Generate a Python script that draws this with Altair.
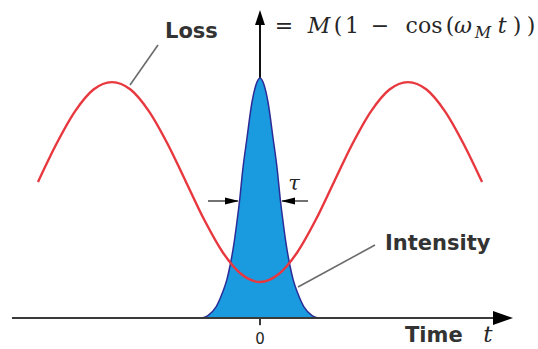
import altair as alt
import pandas as pd

# Time in units of the modulation period (2*pi / omega_M), t = 0 at the pulse centre.
# Loss modulation M(1 - cos(omega_M t)) drawn on a small offset, sampled every 1/16 period
loss_t = [-0.75, -0.6875, -0.625, -0.5625, -0.5, -0.4375, -0.375, -0.3125, -0.25,
          -0.1875, -0.125, -0.0625, 0.0, 0.0625, 0.125, 0.1875, 0.25,
          0.3125, 0.375, 0.4375, 0.5, 0.5625, 0.625, 0.6875, 0.75]
loss_v = [0.567, 0.726, 0.861, 0.952, 0.983, 0.952, 0.861, 0.726, 0.567,
          0.407, 0.272, 0.182, 0.150, 0.182, 0.272, 0.407, 0.567,
          0.726, 0.861, 0.952, 0.983, 0.952, 0.861, 0.726, 0.567]

# Pulse intensity (normalised to its peak)
pulse_t = [-0.196, -0.176, -0.149, -0.127, -0.112, -0.100, -0.088, -0.078, -0.068,
           -0.059, -0.044, -0.027, -0.014, 0.0, 0.014, 0.027, 0.044, 0.059,
           0.068, 0.078, 0.088, 0.100, 0.112, 0.127, 0.149, 0.176, 0.196]
pulse_i = [0.0, 0.010, 0.045, 0.105, 0.160, 0.225, 0.310, 0.400, 0.500,
           0.610, 0.750, 0.900, 0.970, 1.0, 0.970, 0.900, 0.750, 0.610,
           0.500, 0.400, 0.310, 0.225, 0.160, 0.105, 0.045, 0.010, 0.0]

# Half-maximum width markers (tau) and the tick at t = 0
tau_level = 0.4875
tick_labels = ["0"]

T_DOMAIN = [-0.8784, 0.9392]
V_DOMAIN = [-0.1292, 1.325]

xs = alt.Scale(domain=T_DOMAIN, nice=False, zero=False)
ys = alt.Scale(domain=V_DOMAIN, nice=False, zero=False)


def X(field="t"):
    return alt.X(f"{field}:Q", scale=xs, axis=None)


def Y(field="v"):
    return alt.Y(f"{field}:Q", scale=ys, axis=None)


RED = "#e8383f"
BLUE = "#1a9be0"
NAVY = "#2c2c96"
INK = "#262626"
GREY = "#6b6b6b"

loss_df = pd.DataFrame({"t": loss_t, "v": loss_v})
pulse_df = pd.DataFrame({"t": pulse_t, "v": pulse_i})

# vertical axis (drawn under the pulse)
v_axis = alt.Chart(pd.DataFrame({"t": [0.0], "v": [0.0], "v2": [1.27]})).mark_rule(
    color="#111111", strokeWidth=2
).encode(x=X(), y=Y(), y2=alt.Y2("v2"))

# horizontal axis and the tick at zero
h_axis = alt.Chart(pd.DataFrame({
    "t": [-0.838, 0.0], "t2": [0.84, 0.0], "v": [0.0, 0.0], "v2": [0.0, -0.03]
})).mark_rule(color="#3a3a3a", strokeWidth=2).encode(
    x=X(), x2=alt.X2("t2"), y=Y(), y2=alt.Y2("v2")
)

pulse_fill = alt.Chart(pulse_df).mark_area(
    color=BLUE, opacity=1, interpolate="monotone"
).encode(x=X(), y=Y())

pulse_edge = alt.Chart(pulse_df).mark_line(
    color=NAVY, strokeWidth=1.5, interpolate="monotone"
).encode(x=X(), y=Y())

loss_line = alt.Chart(loss_df).mark_line(
    color=RED, strokeWidth=2.4, interpolate="monotone"
).encode(x=X(), y=Y())

# tau arrows
tau_lines = alt.Chart(pd.DataFrame({
    "t": [-0.1757, 0.1622], "t2": [-0.075, 0.075], "v": [tau_level, tau_level]
})).mark_rule(color=INK, strokeWidth=1.3).encode(x=X(), x2=alt.X2("t2"), y=Y())

# arrowheads: tip sits on the data point
heads = alt.Chart(pd.DataFrame({
    "t": [0.8547, 0.0, -0.0709, 0.0709],
    "v": [0.0, 1.2833, tau_level, tau_level],
    "shape": ["M0,0L-1,-0.35L-1,0.35Z", "M0,0L-0.33,1L0.33,1Z",
              "M0,0L-1,-0.25L-1,0.25Z", "M0,0L1,-0.25L1,0.25Z"],
    "size": [1600, 900, 784, 784],
})).mark_point(filled=True, opacity=1, color="#000000", strokeWidth=0).encode(
    x=X(), y=Y(),
    shape=alt.Shape("shape:N", scale=None),
    size=alt.Size("size:Q", scale=None),
)

# leader lines for the labels
leaders = alt.Chart(pd.DataFrame({
    "t": [-0.3446, 0.1284], "v": [1.1375, 0.129],
    "t2": [-0.4392, 0.3885], "v2": [0.9708, 0.304],
})).mark_rule(color=GREY, strokeWidth=1.6).encode(
    x=X(), y=Y(), x2=alt.X2("t2"), y2=alt.Y2("v2")
)

sans_labels = alt.Chart(pd.DataFrame({
    "text": ["Loss", "Intensity", "Time"],
    "t": [-0.3209, 0.4223, 0.4899],
    "v": [1.1667, 0.2833, -0.100],
})).mark_text(
    font="DejaVu Sans", fontWeight="bold", fontSize=21, align="left",
    baseline="alphabetic", color="#333333"
).encode(x=X(), y=Y(), text="text:N")

zero_label = alt.Chart(pd.DataFrame({
    "text": tick_labels, "t": [0.0], "v": [-0.108]
})).mark_text(
    font="DejaVu Sans", fontSize=15, align="center", baseline="alphabetic", color=INK
).encode(x=X(), y=Y(), text="text:N")

# formula: upright parts
serif_up = alt.Chart(pd.DataFrame({
    "text": ["=", "(", "1", "\u2212", "cos", "(", ")", ")"],
    "t": [0.081, 0.2635, 0.311, 0.405, 0.554, 0.642, 0.868, 0.9155],
    "v": [1.1875] * 8,
})).mark_text(
    font="DejaVu Serif", fontSize=22, align="center", baseline="alphabetic", color=INK
).encode(x=X(), y=Y(), text="text:N")

# italic symbols: M, omega, subscript M, t, tau, and the axis variable t
serif_it = alt.Chart(pd.DataFrame({
    "text": ["M", "\u03c9", "M", "t", "\u03c4", "t"],
    "t": [0.199, 0.686, 0.753, 0.818, 0.115, 0.770],
    "v": [1.1875, 1.1875, 1.1667, 1.1875, 0.533, -0.100],
    "size": [22, 22, 16, 22, 21, 23],
})).mark_text(
    font="DejaVu Serif", fontStyle="italic", align="center",
    baseline="alphabetic", color=INK
).encode(x=X(), y=Y(), text="text:N", size=alt.Size("size:Q", scale=None))

chart = alt.layer(
    v_axis, pulse_fill, pulse_edge, h_axis, loss_line, tau_lines, heads,
    leaders, sans_labels, zero_label, serif_up, serif_it
).properties(
    width=538, height=349, autosize=alt.AutoSizeParams(type="none"),
    padding=0, background="white"
).configure_view(stroke=None)

chart.save("out.html", embed_options={"renderer": "svg", "actions": False})
